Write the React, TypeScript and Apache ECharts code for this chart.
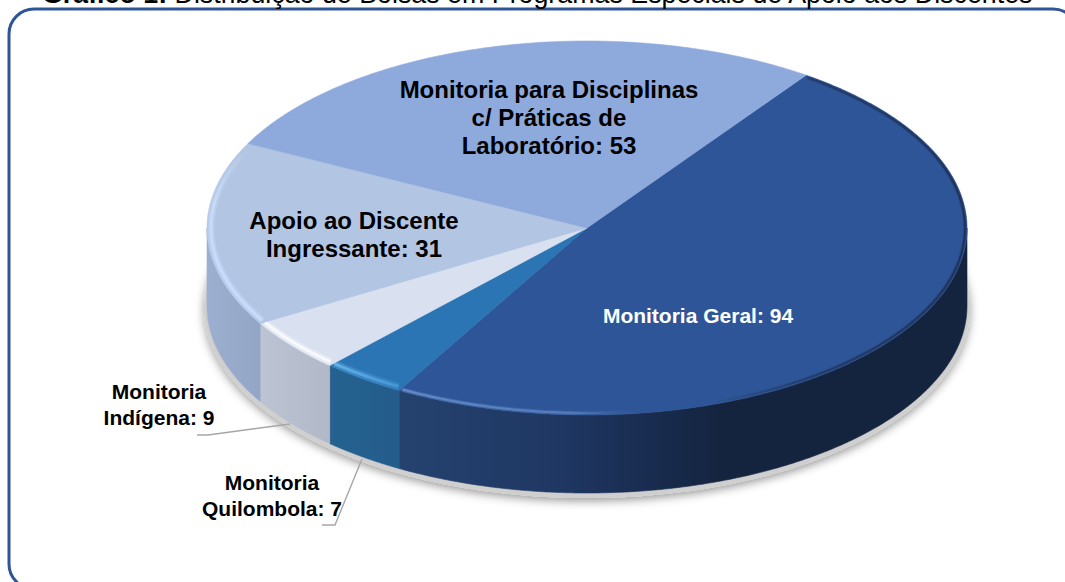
import React, { useEffect, useRef } from "react";
import * as echarts from "echarts";

const TITLE_BOLD = "Gráfico 1:";
const TITLE_REST = " Distribuição de Bolsas em Programas Especiais de Apoio aos Discentes";
const CATEGORIES = [
  "Monitoria Geral",
  "Monitoria\nQuilombola",
  "Monitoria\nIndígena",
  "Apoio ao Discente\nIngressante",
  "Monitoria para Disciplinas\nc/ Práticas de\nLaboratório",
];
const VALUES = [94, 7, 9, 31, 53];
const TOP_COLORS = ["#2E5597", "#2B75B4", "#D9E0F0", "#B2C6E4", "#8EA9DB"];
const LABEL_COLORS = ["#FFFFFF", "#000000", "#000000", "#000000", "#000000"];

// layout
const CX = 587, CY = 228, RX = 380, RY = 187, DEPTH = 78;
const START_DEG = 35.2;
const LABEL_LAYOUT = [
  { x: 698, y: 315, size: 21, lh: 22 },
  { x: 272, y: 495, size: 21, lh: 26 },
  { x: 159, y: 404, size: 21, lh: 26 },
  { x: 354, y: 234, size: 24, lh: 28 },
  { x: 549, y: 117, size: 24, lh: 28 },
];
const LEADERS: (number[][] | null)[] = [
  null,
  [[322, 525], [335, 525], [362, 459]],
  [[197, 435], [208, 435], [290, 424]],
  null,
  null,
];
const WALL_STOPS = [
  [[400, "#25426F"], [560, "#1F3763"], [640, "#1A2D52"], [720, "#14243F"], [968, "#14243F"]],
  [[330, "#25628F"], [400, "#245C8C"]],
  [[260, "#BCC4D3"], [330, "#B1B9C8"]],
  [[208, "#9DAFD0"], [262, "#93A5C4"]],
  [[0, "#7F93BC"], [1, "#7F93BC"]],
];
const BEVELS: any[] = [
  { x1: 400, x2: 968, inset: 2, wide: 4, thin: 2, stops: [[0, "#6F95D2"], [0.3, "#5C83C4"], [0.42, "rgba(70,105,170,0)"], [0.55, "rgba(20,36,63,0)"], [0.75, "rgba(26,44,80,0.7)"], [1, "#1A2C50"]] },
  { x1: 330, x2: 400, inset: 4, wide: 7, thin: 3, stops: [[0, "#6DBDF0"], [1, "#4A9BDC"]] },
  { x1: 260, x2: 330, inset: 4, wide: 7, thin: 3, stops: [[0, "#FFFFFF"], [1, "#FFFFFF"]] },
  { y1: 150, y2: 250, inset: 4, wide: 7, thin: 3, stops: [[0, "rgba(205,222,250,0)"], [0.5, "#CBDDFB"], [1, "#CFE0FF"]] },
  null,
];

const TOTAL = VALUES.reduce((a, b) => a + b, 0);
const angleAt = (i: number) =>
  START_DEG + (VALUES.slice(0, i).reduce((a, b) => a + b, 0) / TOTAL) * 360;

const pt = (deg: number, dx = 0, dy = 0, inset = 0) => {
  const t = (deg * Math.PI) / 180;
  return [CX + dx + (RX - inset) * Math.sin(t), CY + dy - (RY - inset) * Math.cos(t)];
};
const arc = (a: number, b: number, dy = 0, inset = 0) => {
  const n = Math.max(2, Math.ceil(Math.abs(b - a) * 2));
  const out: number[][] = [];
  for (let k = 0; k <= n; k++) out.push(pt(a + ((b - a) * k) / n, 0, dy, inset));
  return out;
};

const renderSlice = (params: any) => {
  const i = params.dataIndex;
  const a0 = angleAt(i);
  const a1 = angleAt(i + 1);
  const children: any[] = [];
  const fill = TOP_COLORS[i];

  if (i === 0) {
    const shadow: number[][] = [];
    for (let d = 0; d < 360; d += 2) shadow.push(pt(d, 0, DEPTH + 2, -3));
    children.push({
      type: "polygon",
      shape: { points: shadow },
      style: { fill: "#CFCFCF", shadowBlur: 10, shadowColor: "rgba(0,0,0,0.4)", shadowOffsetY: 3 },
    });
  }

  const w0 = Math.max(a0, 90);
  const w1 = Math.min(a1, 270);
  if (w1 > w0) {
    const stops: any[] = WALL_STOPS[i];
    const x1 = stops[0][0];
    const x2 = stops[stops.length - 1][0];
    const wallFill = new echarts.graphic.LinearGradient(
      x1, 0, x2, 0,
      stops.map((s) => ({ offset: (s[0] - x1) / (x2 - x1), color: s[1] })),
      true
    );
    children.push({
      type: "polygon",
      shape: { points: [...arc(w0, w1), ...arc(w1, w0, DEPTH)] },
      style: { fill: wallFill, stroke: wallFill, lineWidth: 0.6 },
    });
  }

  children.push({
    type: "polygon",
    shape: { points: [[CX, CY], ...arc(a0, a1)] },
    style: { fill, stroke: fill, lineWidth: 0.6 },
  });

  const bevel = BEVELS[i];
  if (bevel) {
    const grad = new echarts.graphic.LinearGradient(
      bevel.x1 ?? 0, bevel.y1 ?? 0, bevel.x2 ?? 0, bevel.y2 ?? 0,
      bevel.stops.map((s: any) => ({ offset: s[0], color: s[1] })),
      true
    );
    const line = arc(a0 + 0.4, a1 - 0.4, 0, bevel.inset);
    children.push({
      type: "polyline",
      shape: { points: line },
      style: { fill: "none", stroke: grad, lineWidth: bevel.wide, opacity: 0.3 },
    });
    children.push({
      type: "polyline",
      shape: { points: line },
      style: { fill: "none", stroke: grad, lineWidth: bevel.thin, opacity: 0.75 },
    });
  }
  return { type: "group", children };
};

const renderLabel = (params: any, api: any) => {
  const i = params.dataIndex;
  const l = LABEL_LAYOUT[i];
  const children: any[] = [];
  const lead = LEADERS[i];
  if (lead) {
    children.push({
      type: "polyline",
      shape: { points: lead },
      style: { fill: "none", stroke: "#A6A6A6", lineWidth: 1.4 },
    });
  }
  children.push({
    type: "text",
    style: {
      text: `${CATEGORIES[i]}: ${api.value(0)}`,
      x: l.x,
      y: l.y,
      align: "center",
      verticalAlign: "middle",
      fill: LABEL_COLORS[i],
      fontFamily: "Liberation Sans",
      fontWeight: "bold",
      fontSize: l.size,
      lineHeight: l.lh,
    },
  });
  return { type: "group", children };
};

export default function App() {
  const ref = useRef<HTMLDivElement>(null);
  useEffect(() => {
    document.body.style.margin = "0";
    document.body.style.overflow = "hidden";
    const chart = echarts.init(ref.current!, null, { renderer: "svg" });
    chart.setOption({
      animation: false,
      backgroundColor: "#FFFFFF",
      graphic: [
        {
          type: "rect",
          z: 0,
          shape: { x: 9, y: 9, width: 1069, height: 580, r: 25 },
          style: { fill: "#FFFFFF", stroke: "#2F5597", lineWidth: 3 },
        },
        {
          type: "text",
          z: 5,
          style: {
            x: 42,
            y: 7,
            text: `{b|${TITLE_BOLD}}{r|${TITLE_REST}}`,
            verticalAlign: "bottom",
            rich: {
              b: { fontFamily: "Liberation Sans", fontWeight: "bold", fontSize: 26.8, fill: "#000", lineHeight: 26 },
              r: { fontFamily: "Liberation Sans", fontSize: 26.8, fill: "#000", lineHeight: 26 },
            },
          },
        },
      ],
      series: [
        { type: "custom", coordinateSystem: "none", z: 2, data: VALUES, renderItem: renderSlice, silent: true },
        { type: "custom", coordinateSystem: "none", z: 3, data: VALUES, renderItem: renderLabel, silent: true },
      ],
    });
    return () => chart.dispose();
  }, []);
  return <div ref={ref} style={{ width: 1065, height: 582 }} />;
}
